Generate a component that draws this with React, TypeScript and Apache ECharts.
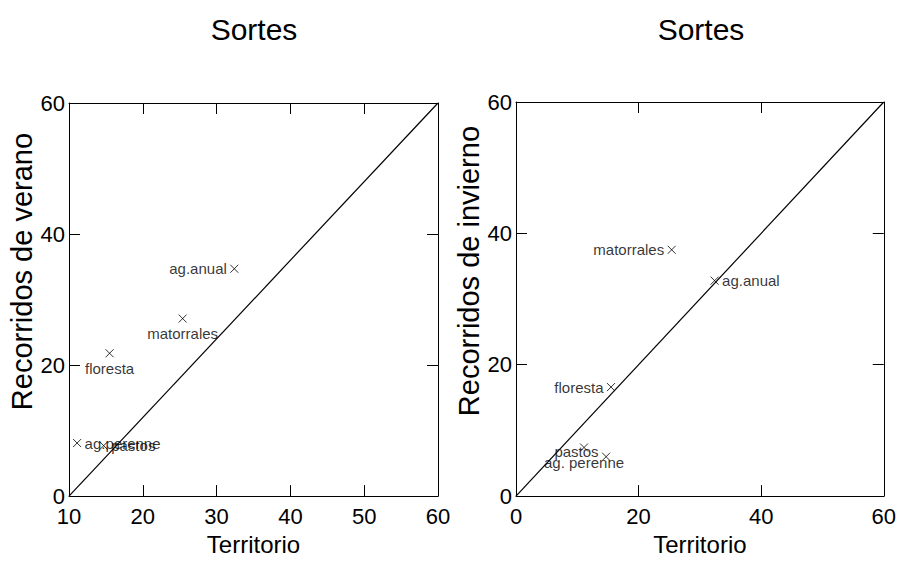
import React, { useEffect, useRef } from "react";
import * as echarts from "echarts";

const categories = ["ag.anual", "matorrales", "floresta", "ag.perenne", "pastos"];
const labelsVerano = ["ag.anual", "matorrales", "floresta", "ag.perenne", "pastos"];
const labelsInvierno = ["ag.anual", "matorrales", "floresta", "ag. perenne", "pastos"];
const territorio = [32.4, 25.4, 15.5, 11.1, 14.7];
const verano = [34.7, 27.1, 21.8, 8.1, 7.7];
const invierno = [32.8, 37.5, 16.6, 7.4, 6.0];
const posVerano = ["left", "bottom", "bottom", "right", "right"];
const posInvierno = ["right", "left", "left", "bottom", "left"];
const offInvierno = [[0, 0], [0, 0], [0, 0], [0, 0], [0, -5]];
const xTicksLeft = [10, 20, 30, 40, 50, 60];
const xTicksRight = [0, 20, 40, 60];
const yTicks = [0, 20, 40, 60];

const FONT = '"Liberation Sans", Arial, sans-serif';

export default function App() {
  const ref = useRef<HTMLDivElement>(null);
  useEffect(() => {
    if (!ref.current) return;
    const chart = echarts.init(ref.current, undefined, { renderer: "svg" });
    const line = { color: "#000", width: 1 };
    const tick = { show: true, inside: true, length: 11, lineStyle: { color: "#000", width: 1 } };
    const lbl = { color: "#000", fontSize: 22, fontFamily: FONT };
    const mkX = (grid: number, ticks: number[], pos: string, show: boolean) => ({
      type: "value",
      gridIndex: grid,
      position: pos,
      min: ticks[0],
      max: ticks[ticks.length - 1],
      interval: ticks[1] - ticks[0],
      name: show ? "Territorio" : "",
      nameLocation: "middle",
      nameGap: 35,
      nameTextStyle: { color: "#000", fontSize: 24, fontFamily: FONT },
      axisLine: { show: true, onZero: false, lineStyle: line },
      axisTick: tick,
      splitLine: { show: false },
      axisLabel: { show, margin: 9, ...lbl },
    });
    const mkY = (grid: number, pos: string, name: string) => ({
      type: "value",
      gridIndex: grid,
      position: pos,
      min: yTicks[0],
      max: yTicks[yTicks.length - 1],
      interval: yTicks[1] - yTicks[0],
      name,
      nameLocation: "middle",
      nameGap: 32,
      nameTextStyle: { color: "#000", fontSize: 29, fontFamily: FONT, padding: [0, 0, 0, 56] },
      axisLine: { show: true, onZero: false, lineStyle: line },
      axisTick: tick,
      splitLine: { show: false },
      axisLabel: { show: name !== "", margin: 4, ...lbl },
    });
    const mkScatter = (xi: number, yi: number, ys: number[], labels: string[], pos: string[], off?: number[][]) => ({
      type: "scatter",
      xAxisIndex: xi,
      yAxisIndex: yi,
      symbol: "path://M0,0L10,10M10,0L0,10",
      symbolSize: 8,
      itemStyle: { color: "rgba(0,0,0,0)", borderColor: "#000", borderWidth: 1 },
      data: categories.map((c, i) => ({
        name: labels[i],
        value: [territorio[i], ys[i]],
        label: {
          show: true,
          position: pos[i],
          distance: 3,
          offset: off ? off[i] : [0, 0],
          formatter: labels[i],
          color: "#000",
          fontSize: 15,
          fontFamily: FONT,
        },
      })),
    });
    const diag = (xi: number, yi: number, x0: number) => ({
      type: "line",
      xAxisIndex: xi,
      yAxisIndex: yi,
      showSymbol: false,
      symbol: "none",
      lineStyle: { color: "#000", width: 1.2 },
      data: [[x0, 0], [60, 60]],
      silent: true,
    });
    chart.setOption({
      animation: false,
      backgroundColor: "#fff",
      grid: [
        { left: 69, top: 103, width: 369, height: 394 },
        { left: 516, top: 102, width: 368, height: 395 },
      ],
      xAxis: [
        mkX(0, xTicksLeft, "bottom", true),
        mkX(0, xTicksLeft, "top", false),
        mkX(1, xTicksRight, "bottom", true),
        mkX(1, xTicksRight, "top", false),
      ],
      yAxis: [
        mkY(0, "left", "Recorridos de verano"),
        mkY(0, "right", ""),
        mkY(1, "left", "Recorridos de invierno"),
        mkY(1, "right", ""),
      ],
      graphic: [
        { type: "text", x: 254, y: 14, style: { text: "Sortes", fill: "#000", font: `30px ${FONT}`, align: "center", verticalAlign: "top" } },
        { type: "text", x: 701, y: 14, style: { text: "Sortes", fill: "#000", font: `30px ${FONT}`, align: "center", verticalAlign: "top" } },
      ],
      series: [
        diag(0, 0, 10),
        mkScatter(0, 0, verano, labelsVerano, posVerano),
        diag(2, 2, 0),
        mkScatter(2, 2, invierno, labelsInvierno, posInvierno, offInvierno),
      ],
    });
    return () => chart.dispose();
  }, []);
  return <div ref={ref} style={{ position: "fixed", left: 0, top: 0, width: 899, height: 561 }} />;
}
